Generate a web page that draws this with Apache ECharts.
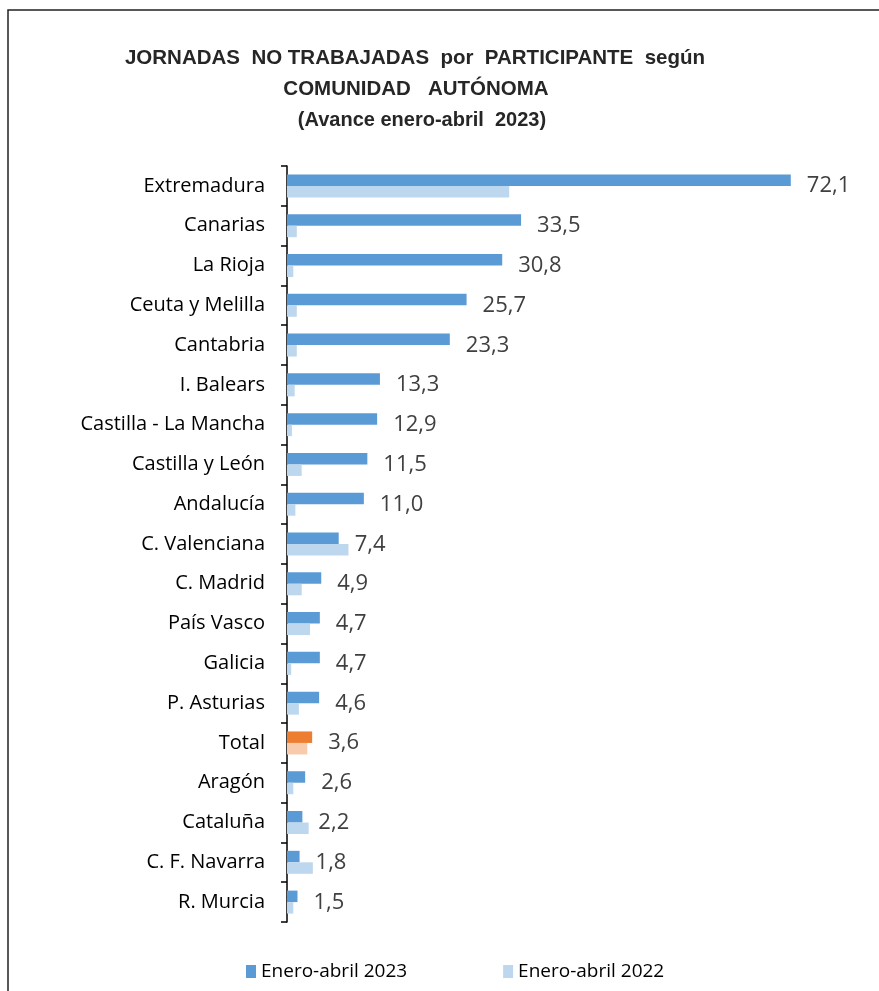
<!DOCTYPE html>
<html>
<head>
<meta charset="utf-8">
<script src="https://cdn.jsdelivr.net/npm/echarts@6/dist/echarts.min.js"></script>
<style>
html,body{margin:0;padding:0;background:#fff;}
#chart{width:879px;height:991px;}
</style>
</head>
<body>
<div id="chart"></div>
<script>
const categories = ["Extremadura","Canarias","La Rioja","Ceuta y Melilla","Cantabria","I. Balears","Castilla - La Mancha","Castilla y León","Andalucía","C. Valenciana","C. Madrid","País Vasco","Galicia","P. Asturias","Total","Aragón","Cataluña","C. F. Navarra","R. Murcia"];
const values2023 = [72.1,33.5,30.8,25.7,23.3,13.3,12.9,11.5,11.0,7.4,4.9,4.7,4.7,4.6,3.6,2.6,2.2,1.8,1.5];
const values2022 = [31.8,1.4,0.9,1.4,1.4,1.1,0.7,2.1,1.2,8.8,2.1,3.3,0.6,1.7,2.9,0.9,3.1,3.7,0.9];
const seriesNames = ["Enero-abril 2023","Enero-abril 2022"];
const titleLines = ["JORNADAS  NO TRABAJADAS  por  PARTICIPANTE  según","COMUNIDAD   AUTÓNOMA","(Avance enero-abril  2023)"];

const totalName = "Total";
const data23 = values2023.map((v,i)=> categories[i]===totalName ? {value:v,itemStyle:{color:'#ED7D31'}} : v);
const data22 = values2022.map((v,i)=> categories[i]===totalName ? {value:v,itemStyle:{color:'#F8CBAD'}} : v);

const chart = echarts.init(document.getElementById('chart'));
const titleFont = "'Liberation Sans',sans-serif";
const labelFont = "'Open Sans','Noto Sans',sans-serif";
chart.setOption({
  animation:false,
  backgroundColor:'#fff',
  title:[
    {text:titleLines[0],left:410,top:43,textAlign:'center',textStyle:{fontFamily:titleFont,fontWeight:'bold',fontSize:20.5,color:'#262626'}},
    {text:titleLines[1],left:411,top:74,textAlign:'center',textStyle:{fontFamily:titleFont,fontWeight:'bold',fontSize:20.5,color:'#262626'}},
    {text:titleLines[2],left:417,top:105,textAlign:'center',textStyle:{fontFamily:titleFont,fontWeight:'bold',fontSize:20,color:'#262626'}}
  ],
  graphic:[{type:'rect',shape:{x:8,y:10,width:900,height:1000},style:{fill:'none',stroke:'#222',lineWidth:1.5},silent:true}],
  legend:{
    data:seriesNames,left:241,top:957,itemGap:96,itemWidth:10,itemHeight:13,icon:'rect',
    textStyle:{fontFamily:labelFont,fontSize:19,color:'#000'}
  },
  grid:{left:287,top:166,width:559,height:756,containLabel:false},
  xAxis:{type:'value',min:0,max:80,show:false},
  yAxis:{
    type:'category',data:categories,inverse:true,
    axisLine:{lineStyle:{color:'#000',width:1.5}},
    axisTick:{show:true,length:6,lineStyle:{color:'#000',width:1.5}},
    axisLabel:{margin:22,fontFamily:labelFont,fontSize:20,color:'#000'}
  },
  series:[
    {name:seriesNames[0],type:'bar',data:data23,barWidth:11.5,barGap:'0%',barCategoryGap:'42%',
     itemStyle:{color:'#5B9BD5'},
     label:{show:true,position:'right',distance:16,offset:[0,6],fontFamily:labelFont,fontSize:22,color:'#404040',
       formatter:p=>p.value.toFixed(1).replace('.',',')}},
    {name:seriesNames[1],type:'bar',data:data22,barWidth:11.5,
     itemStyle:{color:'#BDD7EE'}}
  ]
});
</script>
</body>
</html>
